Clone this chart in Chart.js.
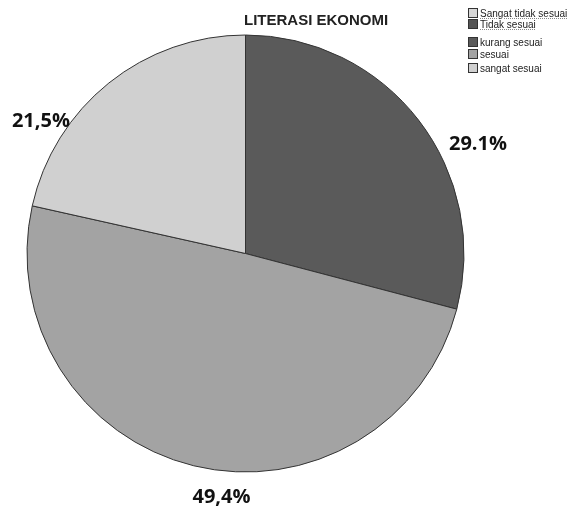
<!DOCTYPE html>
<html><head><meta charset="utf-8">
<script src="https://cdn.jsdelivr.net/npm/chart.js@4"></script>
<style>
html,body{margin:0;padding:0;background:#fff;}
#wrap{position:relative;width:567px;height:507px;overflow:hidden;}
#title{position:absolute;left:244px;top:11px;font:bold 15px "Liberation Sans",Arial,sans-serif;color:#222;}
.lg{position:absolute;left:468px;font:10px "Liberation Sans",Arial,sans-serif;color:#222;white-space:nowrap;line-height:11px;}
.lg span.b{display:inline-block;width:8px;height:8px;border:1px solid #333;vertical-align:-1px;margin-right:2px;}
.lg.sq span.t{text-decoration:underline dotted #888;}
.pl{position:absolute;font:bold 20px "Open Sans","Liberation Sans",sans-serif;color:#111;transform:translate(-50%,-50%);white-space:nowrap;}
</style></head>
<body><div id="wrap"><canvas id="c" width="567" height="507"></canvas><div id="title"></div></div>
<script>
const categories = ["Sangat tidak sesuai","Tidak sesuai","kurang sesuai","sesuai","sangat sesuai"];
const values = [0, 0, 29.1, 49.4, 21.5];
const colors = ["#d6d6d6","#555555","#5a5a5a","#a3a3a3","#d0d0d0"];
const pctLabels = ["", "", "29.1%", "49,4%", "21,5%"];
const chartTitle = "LITERASI EKONOMI";

document.getElementById('title').textContent = chartTitle;
const wrap = document.getElementById('wrap');
const legendTops = [8, 19, 37, 49, 63];
categories.forEach((c,i)=>{
  const d = document.createElement('div');
  d.className = 'lg' + (i<2 ? ' sq' : '');
  d.style.top = legendTops[i] + 'px';
  d.innerHTML = '<span class="b"></span><span class="t"></span>';
  d.querySelector('.b').style.background = colors[i];
  d.querySelector('.t').textContent = c;
  wrap.appendChild(d);
});

// label placement: angle nudge (deg) and radial distance factor per slice
const labelNudge = [0, 0, 12, -8, -18];
const labelDist = [1, 1, 1.18, 1.11, 1.12];

const labelPlugin = {
  id:'pl',
  afterRender(chart){
    if (chart._plDone) return; chart._plDone = true;
    const meta = chart.getDatasetMeta(0);
    meta.data.forEach((arc,i)=>{
      if (!values[i]) return;
      const p = arc.getProps(['x','y','startAngle','endAngle','outerRadius'], true);
      const a = (p.startAngle + p.endAngle)/2 + labelNudge[i]*Math.PI/180;
      const r = p.outerRadius * labelDist[i];
      const d = document.createElement('div');
      d.className = 'pl';
      d.textContent = pctLabels[i];
      d.style.left = (p.x + Math.cos(a)*r) + 'px';
      d.style.top = (p.y + Math.sin(a)*r) + 'px';
      wrap.appendChild(d);
    });
  }
};

new Chart(document.getElementById('c'), {
  type:'pie',
  data:{labels:categories, datasets:[{data:values, backgroundColor:colors, borderColor:'#333', borderWidth:1}]},
  options:{
    responsive:false, animation:false,
    layout:{padding:{left:26.5, right:102.5, top:34.5, bottom:34.5}},
    plugins:{legend:{display:false}, tooltip:{enabled:false}, title:{display:false}}
  },
  plugins:[labelPlugin]
});
</script>
</body></html>
